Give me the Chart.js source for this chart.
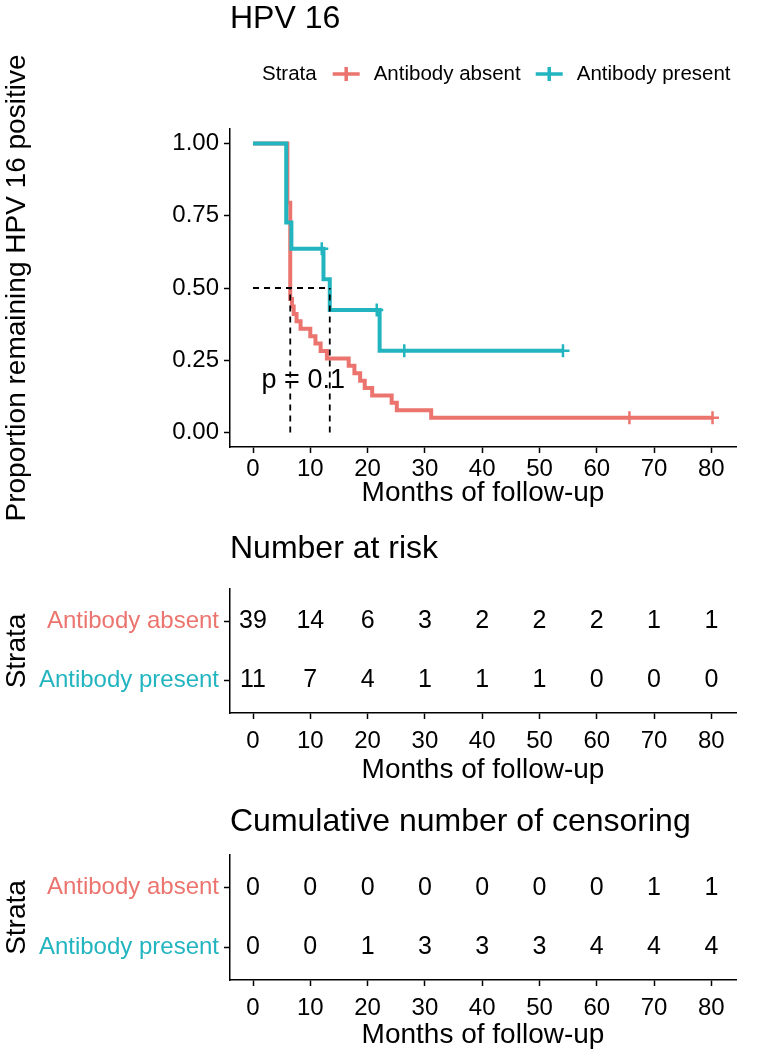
<!DOCTYPE html>
<html>
<head>
<meta charset="utf-8">
<script src="https://cdn.jsdelivr.net/npm/chart.js@4.4.0/dist/chart.umd.min.js"></script>
<style>
  body { margin: 0; background: #fff; }
  #wrap { position: relative; width: 760px; height: 1053px; }
  #wrap canvas { position: absolute; left: 0; }
</style>
</head>
<body>
<div id="wrap">
  <canvas id="survChart" width="760" height="540" style="top:0px"></canvas>
  <canvas id="riskChart" width="760" height="277" style="top:510px"></canvas>
  <canvas id="censorChart" width="760" height="266" style="top:787px"></canvas>
</div>
<script>
const RED = '#EC746E';
const TEAL = '#22B5C0';
const FONT = '"Liberation Sans", Arial, sans-serif';

const strata = ['Antibody absent', 'Antibody present'];
const monthTicks = [0, 10, 20, 30, 40, 50, 60, 70, 80];
const survTicks = [0, 0.25, 0.5, 0.75, 1];

// Kaplan-Meier steps
const absentTimes = [0, 6.0, 6.5, 6.8, 7.1, 7.6, 8.3, 10.0, 10.9, 11.8, 12.9, 16.7, 17.7, 18.7, 19.5, 20.8, 24.2, 25.1, 31.1, 80.2];
const absentSurv  = [1.000, 0.795, 0.462, 0.436, 0.410, 0.385, 0.359, 0.333, 0.308, 0.282, 0.256, 0.231, 0.205, 0.179, 0.154, 0.128, 0.103, 0.077, 0.051, 0.051];
const presentTimes = [0, 5.8, 6.7, 12.3, 13.4, 22.1, 54.1];
const presentSurv  = [1.000, 0.727, 0.636, 0.530, 0.424, 0.283, 0.283];

// censoring marks
const absentCensorTimes = [65.7, 80.2];
const absentCensorSurv  = [0.051, 0.051];
const presentCensorTimes = [12.0, 21.6, 26.4, 54.1];
const presentCensorSurv  = [0.636, 0.424, 0.283, 0.283];

// median survival lines
const medianTimes = [6.5, 13.4];
const medianLevel = 0.5;
const pValueText = 'p = 0.1';

// tables
const absentAtRisk   = [39, 14, 6, 3, 2, 2, 2, 1, 1];
const presentAtRisk  = [11, 7, 4, 1, 1, 1, 0, 0, 0];
const absentCensored  = [0, 0, 0, 0, 0, 0, 0, 1, 1];
const presentCensored = [0, 0, 1, 3, 3, 3, 4, 4, 4];

Chart.defaults.font.family = FONT;
Chart.defaults.color = '#000';

const pts = (xs, ys) => xs.map((x, i) => ({x: x, y: ys[i]}));

// title (and legend) above the panel
const headerPlugin = {
  id: 'header',
  afterDraw(chart, args, opts) {
    const ctx = chart.ctx;
    ctx.save();
    ctx.fillStyle = '#000';
    ctx.textAlign = 'left';
    ctx.textBaseline = 'middle';
    ctx.font = '32px ' + FONT;
    ctx.fillText(opts.text, chart.chartArea.left, opts.y);
    if (opts.legend) {
      ctx.font = '20.5px ' + FONT;
      let x = opts.legend.x;
      const y = opts.legend.y;
      ctx.fillText('Strata', x, y);
      x += ctx.measureText('Strata').width + 16;
      [[RED, strata[0]], [TEAL, strata[1]]].forEach(function (item) {
        ctx.strokeStyle = item[0];
        ctx.lineWidth = 3.5;
        ctx.beginPath();
        ctx.moveTo(x, y); ctx.lineTo(x + 27, y);
        ctx.moveTo(x + 13.5, y - 7); ctx.lineTo(x + 13.5, y + 7);
        ctx.stroke();
        x += 27 + 14;
        ctx.fillText(item[1], x, y);
        x += ctx.measureText(item[1]).width + 15;
      });
    }
    ctx.restore();
  }
};

const pvalPlugin = {
  id: 'pval',
  afterDatasetsDraw(chart, args, opts) {
    const ctx = chart.ctx;
    ctx.save();
    ctx.font = '27px ' + FONT;
    ctx.fillStyle = '#000';
    ctx.textAlign = 'left';
    ctx.textBaseline = 'middle';
    ctx.fillText(opts.text, chart.scales.x.getPixelForValue(opts.x), chart.scales.y.getPixelForValue(opts.y));
    ctx.restore();
  }
};

// numbers in the tables, placed at each point of the dataset
const countPlugin = {
  id: 'counts',
  afterDatasetsDraw(chart) {
    const ctx = chart.ctx;
    ctx.save();
    ctx.font = '25px ' + FONT;
    ctx.fillStyle = '#000';
    ctx.textAlign = 'center';
    ctx.textBaseline = 'middle';
    chart.data.datasets.forEach(function (ds, d) {
      chart.getDatasetMeta(d).data.forEach(function (el, i) {
        ctx.fillText(String(ds.data[i].n), el.x, el.y);
      });
    });
    ctx.restore();
  }
};

function monthAxis(h, tickPad, titlePad) {
  return {
    type: 'linear',
    min: -4.015,
    max: 84.3,
    afterBuildTicks: s => { s.ticks = monthTicks.map(v => ({value: v})); },
    afterFit: s => { s.height = h; },
    ticks: {color: '#000', font: {size: 24}, padding: tickPad, maxRotation: 0, autoSkip: false},
    grid: {drawOnChartArea: false, drawTicks: true, tickLength: 6, tickColor: '#000', tickWidth: 1.5},
    border: {display: true, color: '#000', width: 1.5},
    title: {display: true, text: 'Months of follow-up', color: '#000', font: {size: 28}, padding: {top: 0, bottom: titlePad}}
  };
}

const dashed = {borderColor: '#000', borderWidth: 1.8, borderDash: [6, 5], pointRadius: 0, fill: false, order: 0};

new Chart(document.getElementById('survChart'), {
  type: 'line',
  data: {
    datasets: [
      Object.assign({data: [{x: 0, y: medianLevel}, {x: medianTimes[1], y: medianLevel}]}, dashed),
      Object.assign({data: [{x: medianTimes[0], y: 0}, {x: medianTimes[0], y: medianLevel}]}, dashed),
      Object.assign({data: [{x: medianTimes[1], y: 0}, {x: medianTimes[1], y: medianLevel}]}, dashed),
      {data: pts(presentCensorTimes, presentCensorSurv), showLine: false, pointStyle: 'cross', pointRadius: 6.5,
       pointBorderWidth: 2.5, pointBorderColor: TEAL, order: 1},
      {data: pts(presentTimes, presentSurv), stepped: 'before', borderColor: TEAL, borderWidth: 4, pointRadius: 0, order: 2},
      {data: pts(absentCensorTimes, absentCensorSurv), showLine: false, pointStyle: 'cross', pointRadius: 6.5,
       pointBorderWidth: 2.5, pointBorderColor: RED, order: 3},
      {data: pts(absentTimes, absentSurv), stepped: 'before', borderColor: RED, borderWidth: 4, pointRadius: 0, order: 4}
    ]
  },
  options: {
    responsive: false,
    animation: false,
    events: [],
    layout: {padding: {top: 129, right: 24, left: 0, bottom: 0}, autoPadding: false},
    scales: {
      x: monthAxis(93, 2, 30),
      y: {
        type: 'linear',
        min: -0.05,
        max: 1.05,
        afterBuildTicks: s => { s.ticks = survTicks.map(v => ({value: v})); },
        afterFit: s => { s.width = 230; },
        ticks: {color: '#000', font: {size: 24}, padding: 5, callback: v => v.toFixed(2)},
        grid: {drawOnChartArea: false, drawTicks: true, tickLength: 6, tickColor: '#000', tickWidth: 1.5},
        border: {display: true, color: '#000', width: 1.5},
        title: {display: true, text: 'Proportion remaining HPV 16 positive', color: '#000', font: {size: 28}, padding: {top: 0, bottom: 0}}
      }
    },
    plugins: {
      legend: {display: false},
      tooltip: {enabled: false},
      header: {text: 'HPV 16', y: 19, legend: {x: 262, y: 74}},
      pval: {text: pValueText, x: 1.5, y: 0.18}
    }
  },
  plugins: [headerPlugin, pvalPlugin]
});

function makeTable(id, title, titleY, padTop, axisH, titlePad, absentVals, presentVals) {
  return new Chart(document.getElementById(id), {
    type: 'scatter',
    data: {
      datasets: [
        {data: monthTicks.map((m, i) => ({x: m, y: 2, n: absentVals[i]})), pointRadius: 0},
        {data: monthTicks.map((m, i) => ({x: m, y: 1, n: presentVals[i]})), pointRadius: 0}
      ]
    },
    options: {
      responsive: false,
      animation: false,
      events: [],
      layout: {padding: {top: padTop, right: 24, left: 0, bottom: 0}, autoPadding: false},
      scales: {
        x: monthAxis(axisH, 8, titlePad),
        y: {
          type: 'linear',
          min: 0.45,
          max: 2.55,
          afterBuildTicks: s => { s.ticks = [{value: 1}, {value: 2}]; },
          afterFit: s => { s.width = 230; },
          ticks: {
            font: {size: 24},
            padding: 5,
            color: c => (c.tick && c.tick.value === 2) ? RED : TEAL,
            callback: v => v === 2 ? strata[0] : strata[1]
          },
          grid: {drawOnChartArea: false, drawTicks: true, tickLength: 6, tickColor: '#000', tickWidth: 1.5},
          border: {display: true, color: '#000', width: 1.5},
          title: {display: true, text: 'Strata', color: '#000', font: {size: 28}, padding: {top: 0, bottom: 0}}
        }
      },
      plugins: {
        legend: {display: false},
        tooltip: {enabled: false},
        header: {text: title, y: titleY}
      }
    },
    plugins: [headerPlugin, countPlugin]
  });
}

makeTable('riskChart', 'Number at risk', 39, 79, 74, 0, absentAtRisk, presentAtRisk);
makeTable('censorChart', 'Cumulative number of censoring', 35, 68, 73, 1, absentCensored, presentCensored);
</script>
</body>
</html>
